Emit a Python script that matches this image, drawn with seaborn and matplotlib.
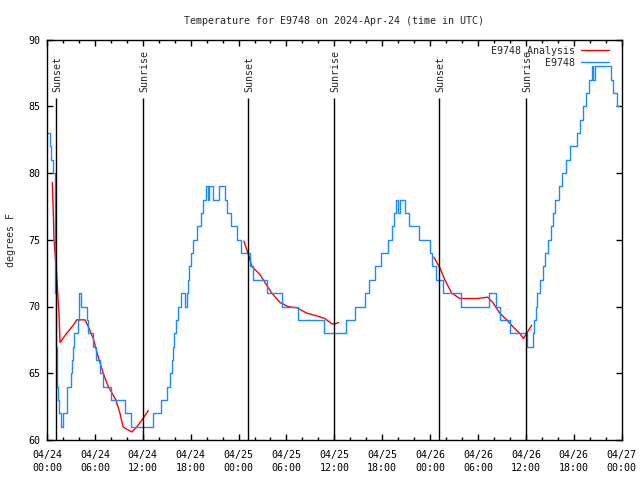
import pandas as pd
import numpy as np
import matplotlib
matplotlib.use('Agg')
from matplotlib import pyplot as plt
from matplotlib.lines import Line2D
import matplotlib.dates as mdates
import seaborn as sns

############################ data ###############################################
start = pd.Timestamp('2024-04-24 00:00')

# station readings (hours since 04/24 00:00, deg F), drawn as steps
blue_hours = [0.12, 0.35, 0.55, 0.7, 0.95, 1.0, 1.05, 1.12, 1.2, 1.42, 1.55, 1.75,
              2.05, 2.46, 2.55, 2.96, 3.1, 3.25, 3.38, 3.9, 4.0, 4.05, 4.25, 4.97,
              5.18, 5.8, 6.15, 6.64, 7.05, 8.05, 9.77, 10.55, 13.3, 14.24, 15.0,
              15.4, 15.6, 15.75, 15.9, 16.1, 16.4, 16.85, 17.3, 17.5, 17.65, 17.85,
              18.05, 18.3, 18.75, 19.25, 19.6, 19.87, 20.15, 20.35, 20.8, 21.6,
              22.3, 22.55, 23.0, 23.85, 24.3, 25.4, 25.8, 27.5, 29.4, 31.5, 34.7,
              37.5, 38.6, 39.8, 40.4, 41.07, 41.8, 42.7, 43.25, 43.45, 43.75, 44.0,
              44.2, 44.8, 45.4, 46.6, 47.96, 48.2, 48.75, 49.6, 51.9, 55.4, 56.3,
              56.8, 58.0, 60.15, 60.85, 61.05, 61.25, 61.45, 61.75, 62.1, 62.4,
              62.75, 63.1, 63.35, 63.7, 64.1, 64.5, 65.0, 65.5, 66.45, 66.8, 67.1,
              67.5, 67.9, 68.25, 68.45, 68.6, 70.7, 70.9, 71.4, 71.7]
blue_temps = [83, 82, 81, 80, 78, 75, 71, 67, 64, 63, 62, 61,
              62, 63, 64, 65, 66, 67, 68, 69, 70, 71, 70, 69,
              68, 67, 66, 65, 64, 63, 62, 61, 62, 63, 64,
              65, 66, 67, 68, 69, 70, 71, 70, 71, 72, 73,
              74, 75, 76, 77, 78, 79, 78, 79, 78, 79,
              78, 77, 76, 75, 74, 73, 72, 71, 70, 69, 68,
              69, 70, 71, 72, 73, 74, 75, 76, 77, 78, 77,
              78, 77, 76, 75, 74, 73, 72, 71, 70, 71, 70,
              69, 68, 67, 68, 69, 70, 71, 72, 73, 74,
              75, 76, 77, 78, 79, 80, 81, 82, 83, 84, 85,
              86, 87, 88, 87, 88, 87, 86, 85, 85]

# analysis, three separate pieces
red_a_hours = [0.66, 0.79, 0.88, 1.0, 1.21, 1.34, 1.5, 1.63, 2.0, 2.46, 2.88, 3.3,
               3.71, 4.13, 4.76, 5.17, 5.8, 6.43, 7.05, 7.68, 8.64, 9.14, 9.52,
               10.0, 10.64, 11.27, 11.9, 12.69]
red_a_temps = [79.3, 77, 75, 74, 72.5, 71, 69.5, 67.3, 67.6, 68, 68.3, 68.6,
               69, 69, 69, 68.5, 67.6, 66.2, 65, 64, 63, 62, 61,
               60.8, 60.6, 61, 61.5, 62.2]
red_b_hours = [24.67, 25.17, 25.67, 26.67, 27.3, 28.17, 29.18, 30.18, 31.3, 32.56,
               33.8, 34.8, 35.7, 36.06, 36.56]
red_b_temps = [74.9, 74, 73, 72.4, 71.8, 71, 70.3, 70, 69.9, 69.5,
               69.3, 69.1, 68.7, 68.7, 68.8]
red_c_hours = [48.46, 49.21, 49.84, 50.71, 51.72, 53.97, 55.22, 55.85, 56.72, 57.6,
               58.35, 59.2, 59.7, 60.1, 60.73]
red_c_temps = [73.7, 72.9, 72, 71, 70.6, 70.6, 70.7, 70.3, 69.5, 69,
               68.5, 68, 67.6, 68, 68.6]

sun_hours = [1.1, 11.97, 25.13, 35.96, 49.15, 59.95]
sun_names = ['Sunset', 'Sunrise', 'Sunset', 'Sunrise', 'Sunset', 'Sunrise']

major_hours = list(range(0, 73, 6))
minor_hours = list(range(0, 73, 2))
tick_labels = ['04/24\n00:00', '04/24\n06:00', '04/24\n12:00', '04/24\n18:00',
               '04/25\n00:00', '04/25\n06:00', '04/25\n12:00', '04/25\n18:00',
               '04/26\n00:00', '04/26\n06:00', '04/26\n12:00', '04/26\n18:00',
               '04/27\n00:00']
y_ticks = [60, 65, 70, 75, 80, 85, 90]

BLUE = '#1a8cff'
RED = '#ff0000'


def to_time(hours):
    return start + pd.to_timedelta(np.asarray(hours, dtype=float), unit='h')


blue_df = pd.DataFrame({'time': to_time(blue_hours), 'temp': blue_temps})
red_df = pd.concat([
    pd.DataFrame({'time': to_time(h), 'temp': t, 'seg': s})
    for h, t, s in [(red_a_hours, red_a_temps, 'a'),
                    (red_b_hours, red_b_temps, 'b'),
                    (red_c_hours, red_c_temps, 'c')]
], ignore_index=True)

############################ plot ###############################################
sns.set_style('ticks')
plt.rcParams['font.family'] = ['DejaVu Sans Mono']
plt.rcParams['font.size'] = 7.2

fig = plt.figure(figsize=(6.4, 4.8), dpi=100)
ax = fig.add_axes([47 / 640, 40 / 480, 574.7 / 640, 400.5 / 480])

sns.lineplot(data=red_df, x='time', y='temp', units='seg', estimator=None,
             color=RED, lw=1, ax=ax)
sns.lineplot(data=blue_df, x='time', y='temp', drawstyle='steps-post',
             color=BLUE, lw=1, ax=ax)

ax.vlines(to_time(sun_hours), 60, 85.6, color='black', lw=1)
for h, name in zip(sun_hours, sun_names):
    ax.annotate(name, (mdates.date2num(to_time([h])[0]), 86.1), xytext=(1, 0),
                textcoords='offset points', rotation=90, ha='center', va='bottom')

ax.set_xlim(start, start + pd.Timedelta(hours=72))
ax.set_ylim(60, 90)
ax.set_xticks(to_time(major_hours))
ax.set_xticklabels(tick_labels, linespacing=1.45)
ax.set_xticks(to_time(minor_hours), minor=True)
ax.set_yticks(y_ticks)
ax.tick_params(which='both', direction='in', top=True, right=True,
               color='black', width=1, labelcolor='black')
ax.tick_params(which='major', length=4.5)
ax.tick_params(which='minor', length=2.5)
ax.tick_params(axis='x', pad=7)
ax.tick_params(axis='y', pad=5)
for sp in ax.spines.values():
    sp.set_color('black')
    sp.set_linewidth(1)

ax.set_xlabel('')
ax.set_ylabel('degrees F', labelpad=9)
ax.set_title('Temperature for E9748 on 2024-Apr-24 (time in UTC)',
             fontsize=7.2, pad=11)

handles = [Line2D([], [], color=RED, lw=1), Line2D([], [], color=BLUE, lw=1)]
ax.legend(handles, ['E9748 Analysis', 'E9748'], loc='upper right',
          bbox_to_anchor=(0.993, 1.007), frameon=False, markerfirst=False,
          handlelength=2.8, handletextpad=0.6, labelspacing=0.2)

fig.savefig('out.png', dpi=100)
